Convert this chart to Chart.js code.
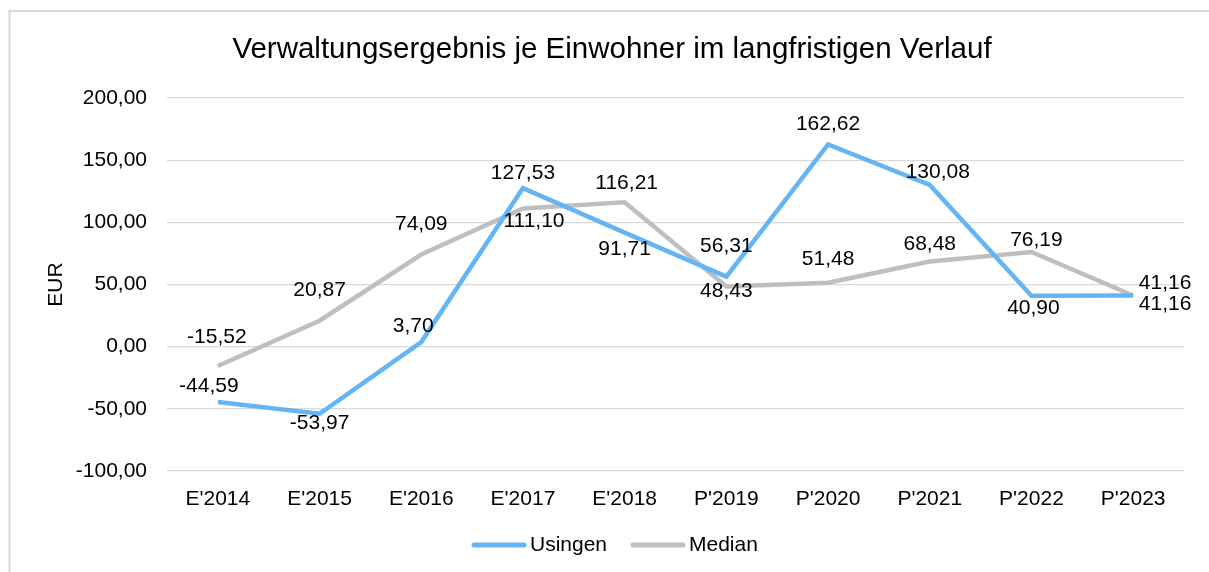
<!DOCTYPE html>
<html lang="de">
<head>
<meta charset="utf-8">
<title>Verwaltungsergebnis je Einwohner</title>
<script src="https://cdn.jsdelivr.net/npm/chart.js@4/dist/chart.umd.min.js"></script>
<style>
  html, body { margin: 0; padding: 0; background: #fff; }
  #wrap { width: 1209px; height: 572px; position: relative; }
</style>
</head>
<body>
<div id="wrap"><canvas id="chart" width="1209" height="572"></canvas></div>
<script>
// Data
const categories = ["E'2014", "E'2015", "E'2016", "E'2017", "E'2018", "P'2019", "P'2020", "P'2021", "P'2022", "P'2023"];
const usingen = [-44.59, -53.97, 3.70, 127.53, 91.71, 56.31, 162.62, 130.08, 40.90, 41.16];
const median = [-15.52, 20.87, 74.09, 111.10, 116.21, 48.43, 51.48, 68.48, 76.19, 41.16];
const yTickValues = [-100, -50, 0, 50, 100, 150, 200];
const chartTitle = 'Verwaltungsergebnis je Einwohner im langfristigen Verlauf';
const yTitle = 'EUR';

// Label placement (pixel offsets from each point), like the manual Excel labels
const usingenLabelOffsets = [[-9, -16], [0, 9], [-8, -16], [0, -15], [0, 17], [0, -30], [0, -20], [8, -13], [2, 12], [32, -12]];
const medianLabelOffsets = [[-1, -29], [0, -31], [0, -30], [11, 13], [2, -19], [0, 5], [0, -23], [0, -17], [5, -12], [32, 9]];

const FONT = "'Liberation Sans', Arial, sans-serif";
const BLUE = '#64b5f6';
const GREY = '#bfbfbf';
const fmt = v => v.toFixed(2).replace('.', ',');

// Title, frame, legend and value labels
const decor = {
  id: 'decor',
  beforeDraw(chart) {
    const ctx = chart.ctx;
    ctx.save();
    ctx.fillStyle = '#fff';
    ctx.fillRect(0, 0, chart.width, chart.height);
    ctx.strokeStyle = '#d9d9d9';
    ctx.lineWidth = 2;
    ctx.beginPath();
    ctx.moveTo(9.5, chart.height);
    ctx.lineTo(9.5, 11);
    ctx.lineTo(chart.width, 11);
    ctx.stroke();
    ctx.restore();
  },
  afterDraw(chart) {
    const ctx = chart.ctx;
    ctx.save();
    ctx.fillStyle = '#000';
    ctx.textAlign = 'center';
    ctx.textBaseline = 'middle';
    ctx.font = '29.5px ' + FONT;
    ctx.fillText(chartTitle, 612, 50);

    // value labels
    ctx.font = '21px ' + FONT;
    const offsets = [usingenLabelOffsets, medianLabelOffsets];
    chart.data.datasets.forEach((ds, i) => {
      const meta = chart.getDatasetMeta(i);
      meta.data.forEach((pt, j) => {
        const [dx, dy] = offsets[i][j];
        ctx.fillText(fmt(ds.data[j]), pt.x + dx, pt.y + dy);
      });
    });

    // legend
    const items = [{ t: 'Usingen', c: BLUE, x: 472 }, { t: 'Median', c: GREY, x: 631 }];
    ctx.textAlign = 'left';
    ctx.lineCap = 'round';
    ctx.lineWidth = 5;
    items.forEach(it => {
      ctx.strokeStyle = it.c;
      ctx.beginPath();
      ctx.moveTo(it.x + 2, 545);
      ctx.lineTo(it.x + 52, 545);
      ctx.stroke();
      ctx.fillText(it.t, it.x + 58, 545);
    });
    ctx.restore();
  }
};

new Chart(document.getElementById('chart').getContext('2d'), {
  type: 'line',
  data: {
    labels: categories,
    datasets: [
      { label: 'Usingen', data: usingen, borderColor: BLUE, backgroundColor: BLUE, borderWidth: 4.5, pointRadius: 0, tension: 0, borderJoinStyle: 'miter' },
      { label: 'Median', data: median, borderColor: GREY, backgroundColor: GREY, borderWidth: 4.5, pointRadius: 0, tension: 0, borderJoinStyle: 'miter' }
    ]
  },
  options: {
    responsive: false,
    animation: false,
    layout: { padding: { top: 98, right: 25, bottom: 0, left: 0 } },
    plugins: { legend: { display: false }, title: { display: false }, tooltip: { enabled: false } },
    scales: {
      x: {
        offset: true,
        grid: { display: false, offset: true },
        border: { display: false },
        ticks: { color: '#000', font: { family: FONT, size: 21 }, padding: 8, maxRotation: 0, autoSkip: false },
        afterFit(scale) { scale.height = 101; }
      },
      y: {
        min: -100, max: 200,
        afterBuildTicks(scale) { scale.ticks = yTickValues.map(v => ({ value: v })); },
        grid: { color: '#d9d9d9', lineWidth: 1.3, drawTicks: false },
        border: { display: false },
        ticks: { color: '#000', font: { family: FONT, size: 21 }, padding: 20, callback: v => fmt(v) },
        title: { display: true, text: yTitle, color: '#000', font: { family: FONT, size: 21 }, padding: { top: 44, bottom: 0 } },
        afterFit(scale) { scale.width = 167; }
      }
    }
  },
  plugins: [decor]
});
</script>
</body>
</html>
